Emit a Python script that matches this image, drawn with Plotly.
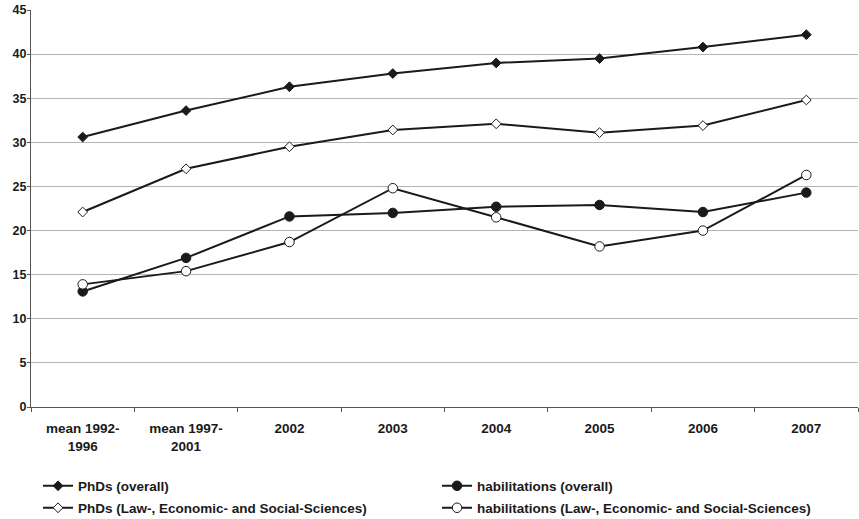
import plotly.graph_objects as go

categories = ["mean 1992-<br>1996", "mean 1997-<br>2001", "2002", "2003", "2004", "2005", "2006", "2007"]
phd_overall = [30.6, 33.6, 36.3, 37.8, 39.0, 39.5, 40.8, 42.2]
phd_law = [22.1, 27.0, 29.5, 31.4, 32.1, 31.1, 31.9, 34.8]
hab_overall = [13.1, 16.9, 21.6, 22.0, 22.7, 22.9, 22.1, 24.3]
hab_law = [13.9, 15.4, 18.7, 24.8, 21.5, 18.2, 20.0, 26.3]
y_ticks = [0, 5, 10, 15, 20, 25, 30, 35, 40, 45]

LINE = "#1a1a1a"
fig = go.Figure()

def add(name, vals, symbol, fill, size, legend):
    fig.add_trace(go.Scatter(
        x=categories, y=vals, name=name, mode="lines+markers", legend=legend,
        line=dict(color=LINE, width=2),
        marker=dict(symbol=symbol, size=size, color=fill, line=dict(color=LINE, width=1)),
    ))

add("PhDs (overall)", phd_overall, "diamond", LINE, 7.5, "legend")
add("habilitations (overall)", hab_overall, "circle", LINE, 9.5, "legend")
add("PhDs (Law-, Economic- and Social-Sciences)", phd_law, "diamond", "white", 7.5, "legend2")
add("habilitations (Law-, Economic- and Social-Sciences)", hab_law, "circle", "white", 9.5, "legend2")

font_family = "Liberation Sans, Arial, sans-serif"
legend_font = dict(family=font_family, size=13.5, color="#1a1a1a", weight="bold")

def legend_box(y):
    return dict(
        orientation="h", x=0.0085, xanchor="left", xref="paper",
        y=y, yanchor="middle", yref="container",
        entrywidth=354, entrywidthmode="pixels",
        font=legend_font, bgcolor="rgba(0,0,0,0)", traceorder="normal",
    )

fig.update_layout(
    width=859, height=519,
    margin=dict(l=31, r=1, t=10, b=112),
    paper_bgcolor="white", plot_bgcolor="white",
    font=dict(family=font_family, size=12, color="#1a1a1a"),
    showlegend=True,
    legend=legend_box(1 - 486 / 519),
    legend2=legend_box(1 - 508 / 519),
    xaxis=dict(
        type="category", showgrid=False, showline=True, linecolor="#555555", linewidth=1,
        ticks="outside", tickson="boundaries", ticklen=4, tickcolor="#555555",
        ticklabelstandoff=9,
        tickfont=dict(family=font_family, size=13.5, color="#1a1a1a", weight="bold"),
        range=[-0.5, 7.5],
    ),
    yaxis=dict(
        range=[0, 45], tickvals=y_ticks, showgrid=True, gridcolor="#b4b4b4", gridwidth=1,
        showline=True, linecolor="#555555", linewidth=1, ticks="outside", ticklen=3,
        tickcolor="#555555", zeroline=False, ticklabelstandoff=-2,
        tickfont=dict(family=font_family, size=12.5, color="#1a1a1a", weight="bold"),
    ),
)

fig.write_html("out.html")
